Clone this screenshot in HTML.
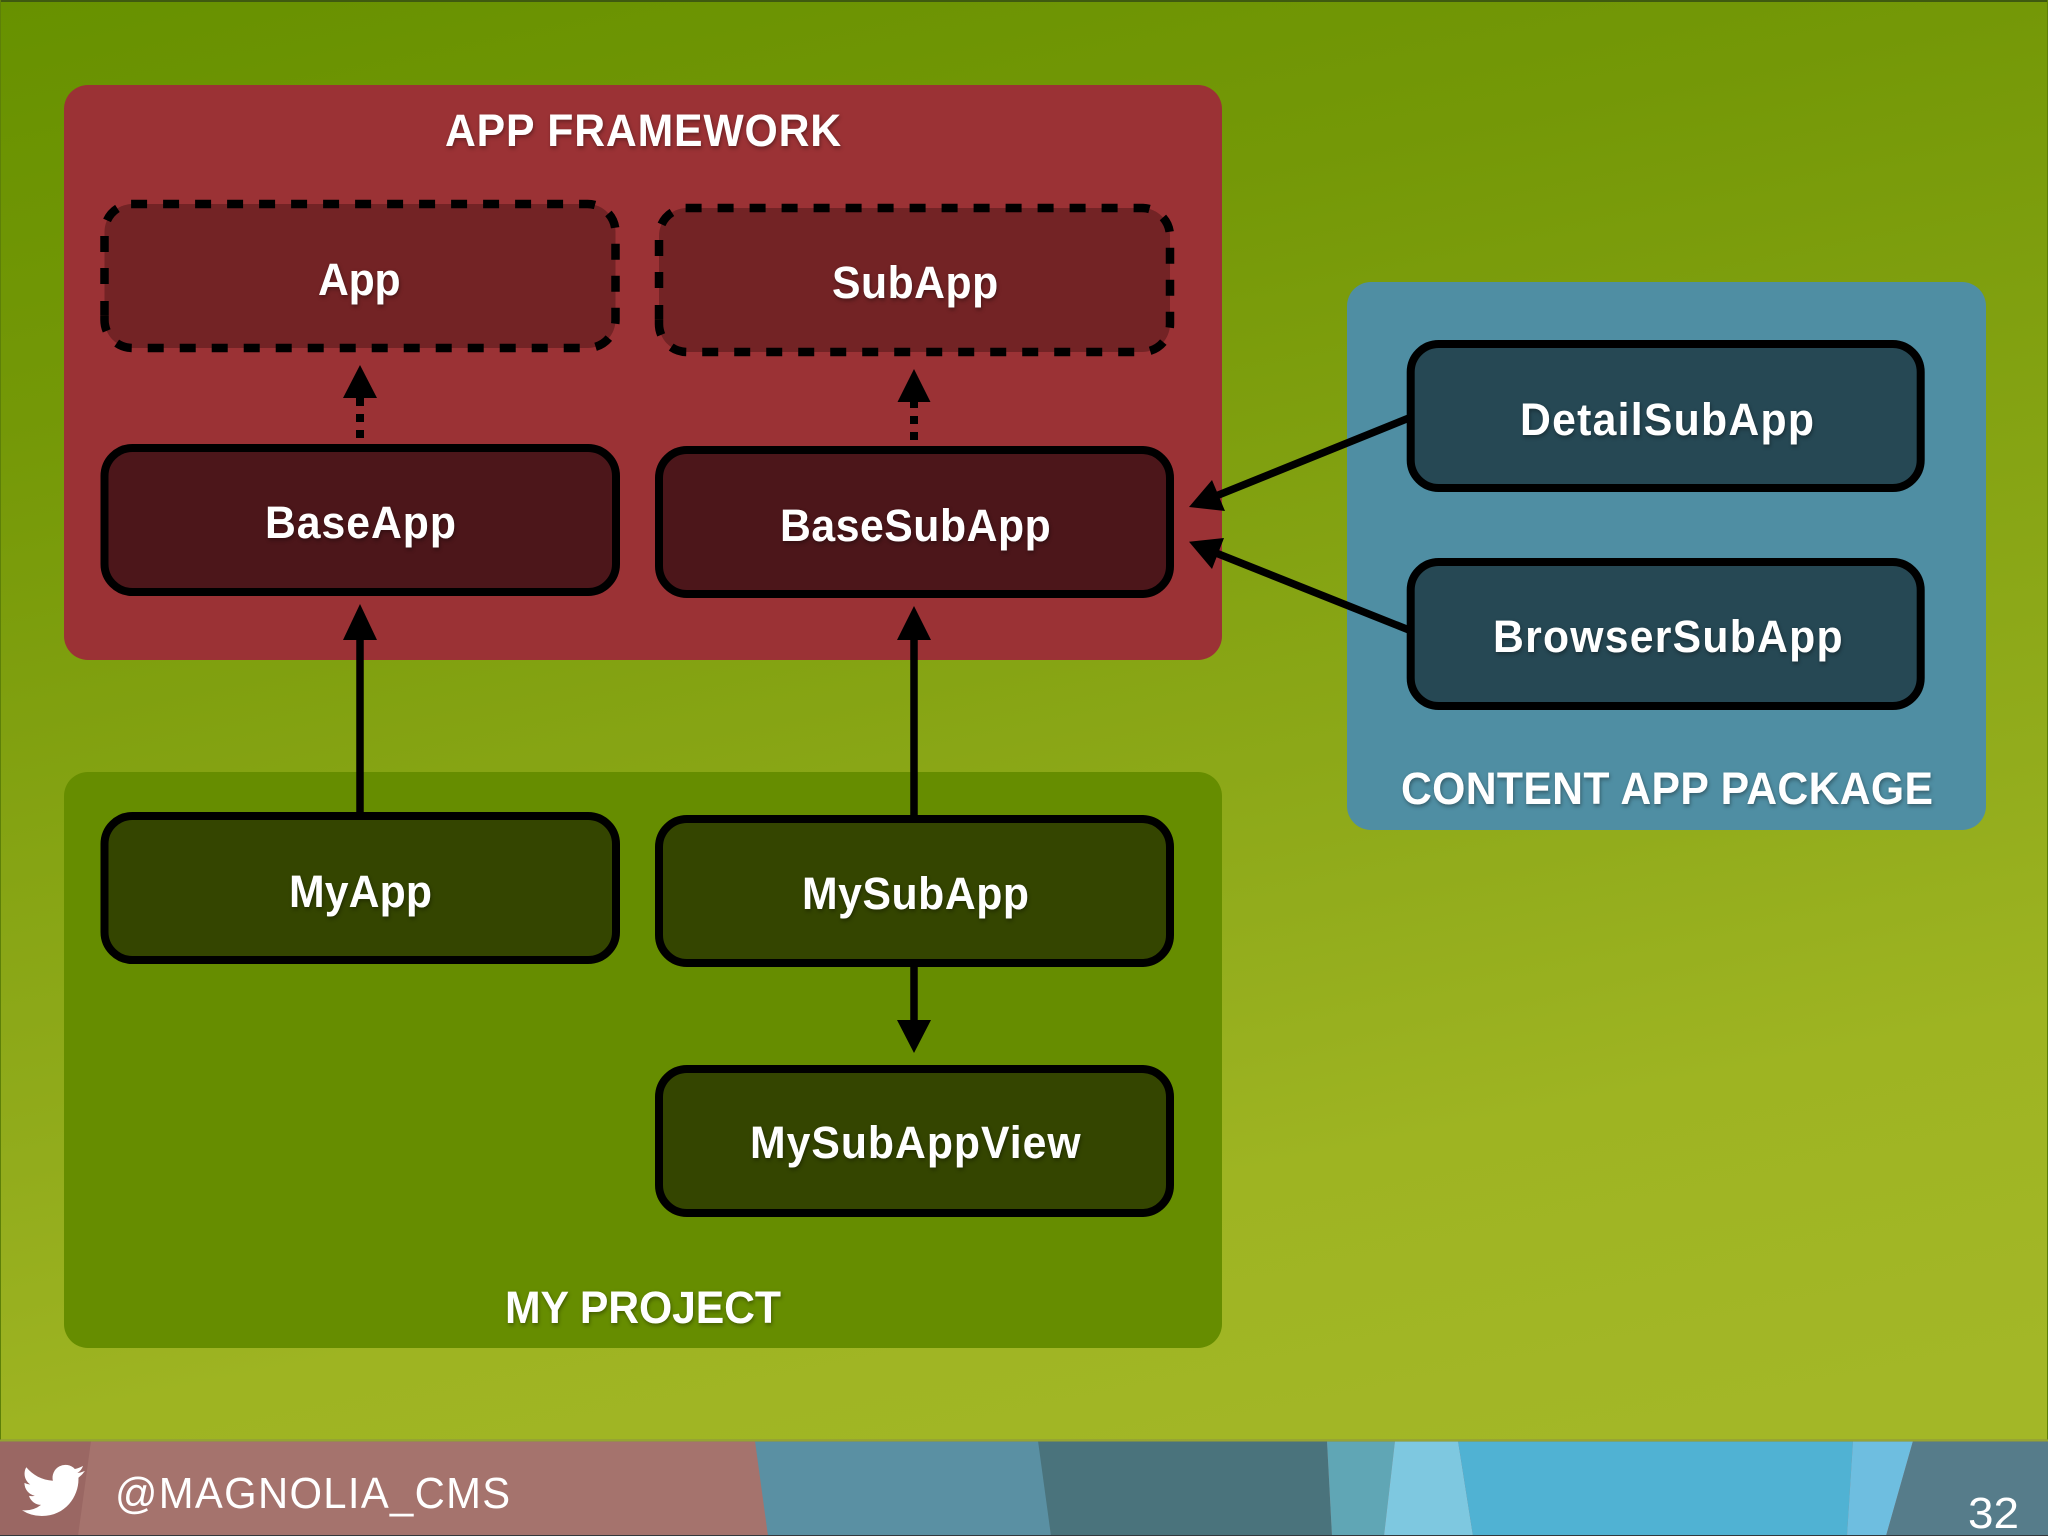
<!DOCTYPE html>
<html><head><meta charset="utf-8">
<style>
html,body{margin:0;padding:0;width:2048px;height:1536px;overflow:hidden;background:#86a512}
svg{display:block}
text{font-family:"Liberation Sans",sans-serif;fill:#fff}
.b{font-weight:700;font-size:45px;filter:drop-shadow(1px 2px 2px rgba(0,0,0,.35))}
.r{font-size:44px}
</style></head><body>
<svg width="2048" height="1536" viewBox="0 0 2048 1536" xmlns="http://www.w3.org/2000/svg">
<defs>
<linearGradient id="bg" gradientUnits="userSpaceOnUse" x1="0" y1="0" x2="350" y2="1700">
<stop offset="0" stop-color="#679100"/><stop offset="0.238" stop-color="#749807"/><stop offset="0.66" stop-color="#92ac1c"/><stop offset="0.81" stop-color="#9eb422"/><stop offset="1" stop-color="#a3b727"/>
</linearGradient>
<g id="dash" fill="none" stroke="#000" stroke-width="8.5">
<path stroke-dasharray="16 16" d="M685.6 208H1142A28 28 0 0 1 1170 236V324A28 28 0 0 1 1142 352H687A28 28 0 0 1 659 324V319"/>
<path d="M659 319V305"/>
<path stroke-dasharray="16 16" d="M659 288V236A28 28 0 0 1 687 208"/>
</g>
</defs>
<rect width="2048" height="1442" fill="url(#bg)"/>
<rect y="0" width="2048" height="2" fill="#3f5a10"/>
<rect x="0" y="0" width="1" height="1440" fill="#5d8008"/>
<rect x="2047" y="0" width="1" height="1440" fill="#5d8008"/>
<!-- footer -->
<rect y="1441" width="2048" height="95" fill="#a5736d"/>
<polygon points="0,1441 91,1441 78,1536 0,1536" fill="#9a6763"/>
<polygon points="755,1441 1040,1441 1051,1536 768,1536" fill="#5a90a3"/>
<polygon points="1038,1441 1327,1441 1332,1536 1051,1536" fill="#4a737c"/>
<polygon points="1327,1441 1395,1441 1384,1536 1332,1536" fill="#60a6b5"/>
<polygon points="1395,1441 1458,1441 1473,1536 1384,1536" fill="#7ec8e0"/>
<polygon points="1458,1441 1853,1441 1847,1536 1473,1536" fill="#50b2d3"/>
<polygon points="1853,1441 1913,1441 1886,1536 1847,1536" fill="#6ebee0"/>
<polygon points="1913,1441 2048,1441 2048,1536 1886,1536" fill="#567c8a"/>
<rect y="1439" width="2048" height="3" fill="#8f9a3c" opacity=".6"/>
<rect y="1535" width="2048" height="1" fill="#33383c"/>
<path transform="translate(22,1459) scale(2.62)" fill="#fff" d="M23.953 4.57a10 10 0 01-2.825.775 4.958 4.958 0 002.163-2.723c-.951.555-2.005.959-3.127 1.184a4.92 4.92 0 00-8.384 4.482C7.69 8.095 4.067 6.13 1.64 3.162a4.822 4.822 0 00-.666 2.475c0 1.71.87 3.213 2.188 4.096a4.904 4.904 0 01-2.228-.616v.06a4.923 4.923 0 003.946 4.827 4.996 4.996 0 01-2.212.085 4.936 4.936 0 004.604 3.417 9.867 9.867 0 01-6.102 2.105c-.39 0-.779-.023-1.17-.067a13.995 13.995 0 007.557 2.209c9.053 0 13.998-7.496 13.998-13.985 0-.21 0-.42-.015-.63A9.935 9.935 0 0024 4.59z"/>
<text class="r" transform="translate(115 1508) scale(.95 1)" textLength="416" lengthAdjust="spacing">@MAGNOLIA_CMS</text>
<text class="r" x="1968" y="1528" textLength="51" lengthAdjust="spacingAndGlyphs">32</text>

<!-- panels -->
<rect x="64" y="85" width="1158" height="575" rx="24" fill="#9b3235"/>
<rect x="64" y="772" width="1158" height="576" rx="24" fill="#668d00"/>
<rect x="1347" y="282" width="639" height="548" rx="24" fill="#4f8ea3"/>

<!-- nodes -->
<rect x="104.5" y="204" width="511" height="144" rx="28" fill="#732325"/>
<use href="#dash" transform="translate(-554.5 -4)"/>
<rect x="659" y="208" width="511" height="144" rx="28" fill="#732325"/>
<use href="#dash"/>
<g stroke="#000" stroke-width="8">
<rect x="104.5" y="448" width="511.5" height="144" rx="28" fill="#4c161a"/>
<rect x="659" y="450" width="511" height="144" rx="28" fill="#4c161a"/>
<rect x="104.5" y="816" width="511.5" height="144" rx="28" fill="#344500"/>
<rect x="659" y="819" width="511" height="144" rx="28" fill="#344500"/>
<rect x="659" y="1069" width="511" height="144" rx="28" fill="#344500"/>
<rect x="1410.7" y="344" width="510" height="144" rx="28" fill="#264854"/>
<rect x="1410.7" y="562" width="510" height="144" rx="28" fill="#264854"/>
</g>

<!-- connectors -->
<g stroke="#000" stroke-width="7.5" fill="none">
<line x1="360" y1="438" x2="360" y2="397" stroke-width="8" stroke-dasharray="8 8"/>
<line x1="914" y1="440" x2="914" y2="400" stroke-width="8" stroke-dasharray="8 8"/>
<line x1="360" y1="816" x2="360" y2="638"/>
<line x1="914" y1="819" x2="914" y2="637"/>
<line x1="914" y1="963" x2="914" y2="1022"/>
<line x1="1409" y1="418" x2="1216" y2="496"/>
<line x1="1409" y1="630" x2="1216" y2="553"/>
</g>
<g fill="#000">
<polygon points="360,365 343,398 377,398"/>
<polygon points="914,369 897.5,402 930.5,402"/>
<polygon points="360,604 343,640 377,640"/>
<polygon points="914,606 897,640 931,640"/>
<polygon points="914,1053 897,1020 931,1020"/>
<polygon points="1189,507 1212,480 1225,511"/>
<polygon points="1189,541.7 1224,538 1212,569"/>
</g>

<!-- labels -->
<text class="b" transform="translate(445 146) scale(.95 1)" textLength="417" lengthAdjust="spacing">APP FRAMEWORK</text>
<text class="b" transform="translate(318 295) scale(.95 1)" textLength="87" lengthAdjust="spacing">App</text>
<text class="b" transform="translate(832 298) scale(.95 1)" textLength="175" lengthAdjust="spacing">SubApp</text>
<text class="b" transform="translate(265 538) scale(.95 1)" textLength="201" lengthAdjust="spacing">BaseApp</text>
<text class="b" transform="translate(780 541) scale(.95 1)" textLength="285" lengthAdjust="spacing">BaseSubApp</text>
<text class="b" transform="translate(289 907) scale(.95 1)" textLength="150.5" lengthAdjust="spacing">MyApp</text>
<text class="b" transform="translate(802 909) scale(.95 1)" textLength="239" lengthAdjust="spacing">MySubApp</text>
<text class="b" transform="translate(750 1158) scale(.95 1)" textLength="348" lengthAdjust="spacing">MySubAppView</text>
<text class="b" transform="translate(505 1323) scale(.95 1)" textLength="290.5" lengthAdjust="spacing">MY PROJECT</text>
<text class="b" transform="translate(1520 435) scale(.95 1)" textLength="309.5" lengthAdjust="spacing">DetailSubApp</text>
<text class="b" transform="translate(1493 652) scale(.95 1)" textLength="368" lengthAdjust="spacing">BrowserSubApp</text>
<text class="b" transform="translate(1401 804) scale(.95 1)" textLength="560" lengthAdjust="spacing">CONTENT APP PACKAGE</text>
</svg>
</body></html>
